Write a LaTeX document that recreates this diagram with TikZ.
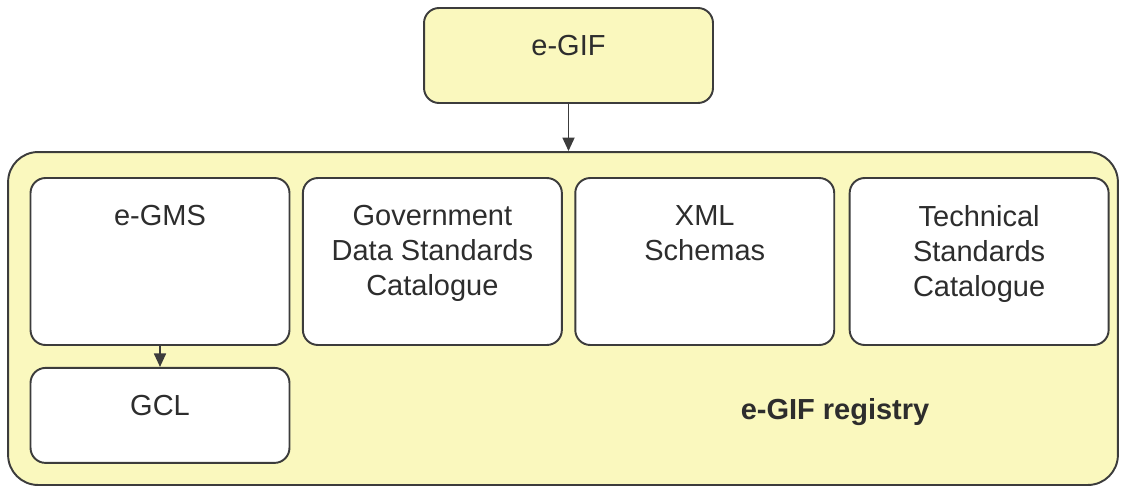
\documentclass[tikz,border=0pt]{standalone}
\usepackage{fontspec}
\setmainfont{Liberation Sans}
\usepackage{tikz}
\usetikzlibrary{arrows.meta, shapes, positioning}

\definecolor{regyellow}{RGB}{250,248,190}
\definecolor{lineGray}{RGB}{60,60,60}
\definecolor{textGray}{RGB}{45,45,45}

\begin{document}
\begin{tikzpicture}[x=0.02cm, y=-0.02cm,
	every node/.style = {font=\fontsize{16.5}{19.9}\selectfont, text=textGray},
	box/.style = {draw=lineGray, line width=1.1pt, rectangle, rounded corners=0.3cm, fill=white, minimum width=5.18cm},
	tall/.style = {minimum height=3.34cm},
	short/.style = {minimum height=1.9cm},
	caption/.style = {anchor=north, inner sep=0pt, align=center, yshift=-0.56cm, text=textGray},
	link/.style = {-{Triangle[length=0.27cm, width=0.24cm]}, draw=lineGray, line width=1pt}
	]
	\useasboundingbox (0,0) rectangle (1125,490);
	\node [box, short, fill=regyellow, minimum width=5.78cm, label={[caption]north:e-GIF}] (eGIF) at (568.5,55.5) {};
	\node [draw=lineGray, line width=1.1pt, rectangle, rounded corners=0.6cm, fill=regyellow, minimum width=22.2cm, minimum height=6.66cm] (Registry) at (563,318.5) {};
	\node [box, tall, label={[caption]north:e-GMS}] (eGMS) at (160,261.5) {};
	\node [box, tall, right = 0.23cm of eGMS, label={[caption]north:Government\\Data Standards\\Catalogue}] (GDSC) {};
	\node [box, tall, right = 0.23cm of GDSC, label={[caption]north:XML\\Schemas}] (XML) {};
	\node [box, tall, right = 0.27cm of XML, label={[caption]north:Technical\\Standards\\Catalogue}] (TSC) {};
	\node [box, short, below = 0.42cm of eGMS, label={[caption]north:GCL}] (GCL) {};
	\node [font=\fontsize{16.5}{19.9}\selectfont\bfseries] (RegLabel) at (835,412) {e-GIF registry};
	\draw [link] (eGIF.south) -- (eGIF.south |- Registry.north);
	\draw [link] (eGMS) -- (GCL);
\end{tikzpicture}
\end{document}
